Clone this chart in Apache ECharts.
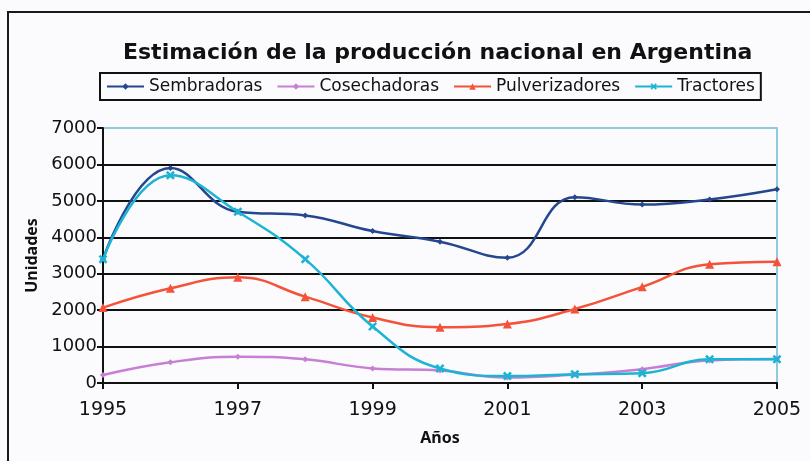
<!DOCTYPE html>
<html>
<head>
<meta charset="utf-8">
<script src="https://cdn.jsdelivr.net/npm/echarts@6/dist/echarts.min.js"></script>
<style>
  html, body { margin: 0; padding: 0; background: #fbfbfd; }
  #chart { width: 810px; height: 461px; }
</style>
</head>
<body>
<div id="chart"></div>
<script>
  const years = ['1995', '1996', '1997', '1998', '1999', '2000', '2001', '2002', '2003', '2004', '2005']
  const sembradoras = [3400, 5900, 4700, 4600, 4170, 3880, 3440, 5100, 4900, 5040, 5320]
  const cosechadoras = [220, 570, 720, 650, 400, 340, 150, 230, 380, 620, 660]
  const pulverizadores = [2070, 2600, 2900, 2370, 1800, 1530, 1620, 2030, 2640, 3260, 3330]
  const tractores = [3400, 5700, 4700, 3400, 1550, 400, 190, 240, 270, 650, 650]

  const font = 'DejaVu Sans'
  const crossPath = 'path://M2,0L5,3L8,0L10,2L7,5L10,8L8,10L5,7L2,10L0,8L3,5L0,2Z'

  function line (name, data, color, symbol, size) {
    return {
      name: name,
      type: 'line',
      data: data,
      smooth: 0.45,
      symbol: symbol,
      symbolSize: size,
      showAllSymbol: true,
      lineStyle: { color: color, width: 2.5 },
      itemStyle: { color: color }
    }
  }

  const chart = echarts.init(document.getElementById('chart'))
  chart.setOption({
    backgroundColor: '#fbfbfd',
    animation: false,
    title: {
      text: 'Estimación de la producción nacional en Argentina',
      left: 118,
      top: 37,
      textStyle: { fontFamily: font, fontSize: 22, fontWeight: 'bold', color: '#111' }
    },
    legend: {
      left: 100,
      top: 73,
      borderColor: '#111',
      borderWidth: 2,
      padding: [5, 6, 5, 6],
      itemWidth: 37,
      itemHeight: 8,
      itemGap: 14,
      textStyle: { fontFamily: font, fontSize: 17, color: '#111' },
      data: ['Sembradoras', 'Cosechadoras', 'Pulverizadores', 'Tractores']
    },
    grid: { left: 103, right: 33, top: 128, bottom: 78 },
    xAxis: {
      type: 'category',
      data: years,
      boundaryGap: false,
      name: 'Años',
      nameLocation: 'middle',
      nameGap: 47,
      nameTextStyle: { fontFamily: 'Noto Sans', fontSize: 16, fontWeight: 'bold', color: '#111' },
      axisLine: { lineStyle: { color: '#111', width: 2 } },
      axisTick: { interval: 1, length: 6, lineStyle: { color: '#111', width: 2 } },
      axisLabel: { interval: 1, margin: 18, fontFamily: font, fontSize: 19, color: '#111' },
      splitLine: { show: false }
    },
    yAxis: [{
      type: 'value',
      min: 0,
      max: 7000,
      interval: 1000,
      name: 'Unidades',
      nameLocation: 'middle',
      nameGap: 63,
      nameTextStyle: { fontFamily: 'Noto Sans', fontSize: 16, fontWeight: 'bold', color: '#111' },
      axisLine: { show: true, lineStyle: { color: '#111', width: 2 } },
      axisTick: { show: true, length: 6, lineStyle: { color: '#111', width: 2 } },
      axisLabel: { margin: 6, fontFamily: font, fontSize: 18, color: '#111', formatter: v => String(v) },
      splitLine: {
        show: true,
        // la línea superior es el borde celeste del área
        lineStyle: { color: ['#111', '#111', '#111', '#111', '#111', '#111', '#111', '#8ec9dc'], width: 2 }
      }
    }, {
      type: 'value',
      min: 0,
      max: 7000,
      interval: 1000,
      position: 'right',
      axisLine: { show: true, lineStyle: { color: '#8ec9dc', width: 2 } },
      axisTick: { show: false },
      axisLabel: { show: false },
      splitLine: { show: false }
    }],
    graphic: [{
      type: 'rect',
      shape: { x: 8, y: 12, width: 900, height: 600 },
      style: { fill: 'none', stroke: '#1a1a1a', lineWidth: 2 },
      silent: true
    }],
    series: [
      line('Sembradoras', sembradoras, '#24478f', 'diamond', 6),
      line('Cosechadoras', cosechadoras, '#c77fd3', 'diamond', 6),
      line('Pulverizadores', pulverizadores, '#f4533a', 'triangle', 9),
      line('Tractores', tractores, '#1db4d4', crossPath, 9)
    ]
  })
</script>
</body>
</html>
